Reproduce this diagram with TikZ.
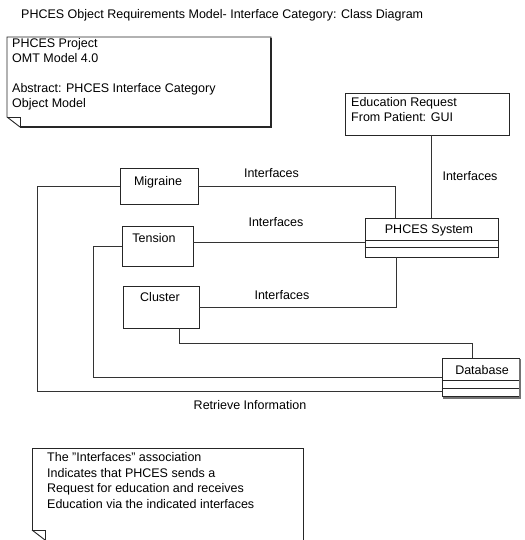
\documentclass[tikz,border=0pt]{standalone}
\usepackage{fontspec}
\setmainfont{Liberation Sans}
\begin{document}
\begin{tikzpicture}[x=1pt,y=-1pt,
  every node/.style={font=\fontsize{12.5}{15}\selectfont, text=black},
  box/.style={draw=black!85, line width=0.9pt, inner sep=0pt},
  conn/.style={draw=black!80, line width=0.9pt},
  lbl/.style={inner sep=0pt, anchor=base},
  notetext/.style={inner sep=0pt, anchor=north west, align=left},
  outline/.style={draw=black!85, line width=0.9pt},
  shade/.style={draw=black!85, line width=2pt}]
\fill[white] (0,0) rectangle (524,540);
\useasboundingbox (0,0) rectangle (524,540);

% title
\node[lbl, anchor=base west] (title) at (21,18.5) {PHCES Object Requirements Model- Interface Category: Class Diagram};

% note 1
\draw[outline] (7,117) -- (7,37) -- (271,37) -- (271,127) -- (20,127) -- cycle;
\draw[outline] (7,117) -- (20,117) -- (20,127);
\draw[shade] (271,38) -- (271,127) -- (20,127);
\node[notetext] (note1) at (12,38.5) {PHCES Project\\OMT Model 4.0\\[15pt]Abstract: PHCES Interface Category\\Object Model};

% education request
\node[box, minimum width=164pt, minimum height=42pt] (edu) at (427,114) {};
\node[notetext] (edut) at (351,97.5) {Education Request\\From Patient: GUI};

% classes
\node[box, minimum width=78pt, minimum height=36pt] (mig) at (159,186) {};
\node[lbl] (migt) at (158,185.5) {Migraine};
\node[box, minimum width=71pt, minimum height=40pt] (ten) at (157.5,246) {};
\node[lbl] (tent) at (154,242.5) {Tension};
\node[box, minimum width=76pt, minimum height=42pt] (clu) at (161,307) {};
\node[lbl] (clut) at (160,301.5) {Cluster};

\node[box, minimum width=133pt, minimum height=39pt] (sys) at (431.5,237.5) {};
\node[lbl] (syst) at (429,233.5) {PHCES System};
\draw[outline] (sys.west |- 0,240) -- (sys.east |- 0,240);
\draw[outline] (sys.west |- 0,247) -- (sys.east |- 0,247);

\node[box, minimum width=77pt, minimum height=38pt] (db) at (480.5,377) {};
\node[lbl] (dbt) at (482,374.5) {Database};
\draw[outline] (db.west |- 0,380) -- (db.east |- 0,380);
\draw[outline] (db.west |- 0,388) -- (db.east |- 0,388);
\draw[draw=black!55, line width=2pt] (520,359) -- (520,397.5) -- (443,397.5);

% connectors
\draw[conn] (mig.east) -| ([xshift=31pt]sys.north west);
\node[lbl] (l1) at (271.5,177.5) {Interfaces};

\draw[conn] (sys.north |- edu.south) -- (sys.north);
\node[lbl] (l2) at (470,180.5) {Interfaces};

\draw[conn] ([yshift=4pt]ten.east) -- ([yshift=4pt]ten.east -| sys.west);
\node[lbl] (l3) at (276,226.5) {Interfaces};

\draw[conn] (clu.east) -| ([xshift=32pt]sys.south west);
\node[lbl] (l4) at (282,299.5) {Interfaces};

\coordinate (c1) at (37,391);
\draw[conn] (mig.west) -| (c1) -- (c1 -| db.west);
\node[lbl] (l5) at (250,409.5) {Retrieve Information};

\coordinate (c2) at (93,377);
\draw[conn] (ten.west) -| (c2) -- (c2 -| db.west);

\coordinate (c3) at (179,343);
\draw[conn] (c3 |- clu.south) -- (c3) -| ([xshift=-8.5pt]db.north);

% note 2
\draw[outline] (32,530) -- (32,448) -- (303,448) -- (303,545);
\draw[outline] (32,530) -- (45,540);
\draw[outline] (32,530) -- (45,530) -- (45,545);
\node[notetext, font=\fontsize{12.5}{15.5}\selectfont] (note2) at (47,452.5) {The "Interfaces" association\\Indicates that PHCES sends a\\Request for education and receives\\Education via the indicated interfaces};
\end{tikzpicture}
\end{document}
